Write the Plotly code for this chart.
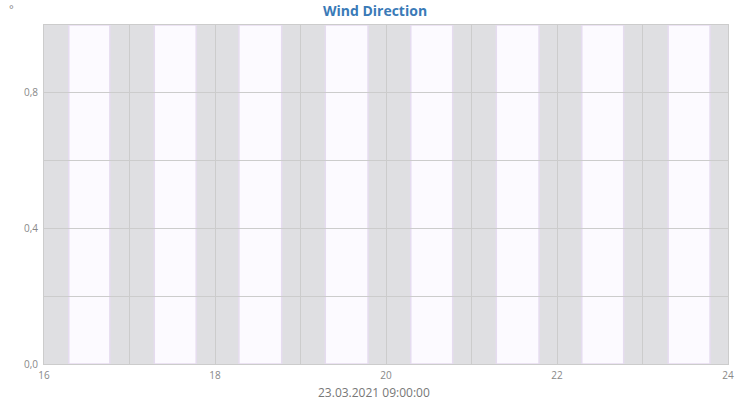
import plotly.graph_objects as go

# daylight intervals (hours), night is the grey background
day_start = [16.29, 17.29, 18.28, 19.29, 20.29, 21.29, 22.29, 23.30]
day_end = [16.77, 17.78, 18.78, 19.79, 20.78, 21.79, 22.78, 23.79]

# no wind direction values in this window
hours = []
direction = []

fig = go.Figure()
fig.add_trace(go.Scatter(x=hours, y=direction, mode="lines",
                         line=dict(color="#3a7ab7"), showlegend=False))

for s, e in zip(day_start, day_end):
    fig.add_vrect(x0=s, x1=e, fillcolor="#fcfaff", opacity=1,
                  line=dict(color="#e6dcf0", width=1.5), layer="below")

grid = "#cccccc"
fig.update_layout(
    width=750, height=400,
    margin=dict(l=44, r=22, t=25, b=36),
    paper_bgcolor="white",
    plot_bgcolor="#dfdfe2",
    separators=",.",
    font=dict(family="Open Sans", color="#888888", size=10),
    title=dict(text="<b>Wind Direction</b>", x=0.5, xanchor="center",
               y=0.985, yanchor="top",
               font=dict(family="Open Sans", size=14, color="#3a7ab7")),
    xaxis=dict(range=[16, 24], dtick=2, tick0=16, showgrid=True, gridcolor=grid,
               minor=dict(dtick=1, showgrid=True, gridcolor=grid),
               showline=True, linecolor=grid, mirror=True, zeroline=False,
               ticks="", ticklabelstandoff=2, automargin=False),
    yaxis=dict(range=[0, 1], dtick=0.4, tick0=0, tickformat=".1f",
               showgrid=True, gridcolor=grid, automargin=False,
               minor=dict(dtick=0.2, showgrid=True, gridcolor=grid),
               showline=True, linecolor=grid, mirror=True, zeroline=False,
               ticks="", ticklabelstandoff=3),
    annotations=[
        dict(text="°", xref="paper", yref="paper", x=-0.047, y=1.05,
             xanchor="center", yanchor="middle", showarrow=False,
             font=dict(size=11, color="#888888")),
        dict(text="23.03.2021 09:00:00", xref="paper", yref="paper",
             x=0.4825, y=-0.083, xanchor="center", yanchor="middle",
             showarrow=False, font=dict(size=12, color="#777777")),
    ],
)

# drop the default page margin so the figure sits at the window corner
fig.write_html("out.html", config={"displayModeBar": False},
               post_script="document.body.style.margin='0';")
